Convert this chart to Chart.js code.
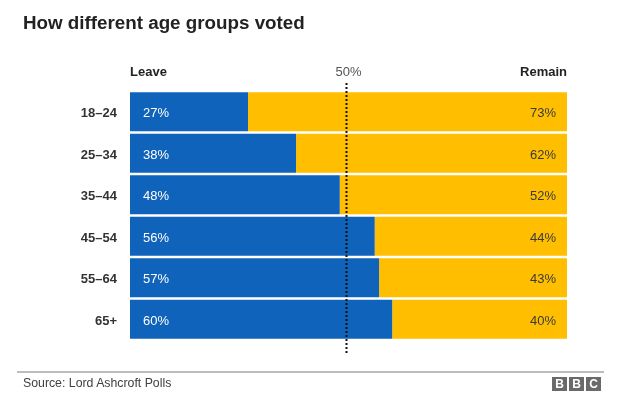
<!DOCTYPE html>
<html>
<head>
<meta charset="utf-8">
<script src="https://cdn.jsdelivr.net/npm/chart.js@4"></script>
<style>
  html, body { margin: 0; padding: 0; background: #fff; }
  body { width: 622px; height: 418px; position: relative; overflow: hidden; font-family: "Liberation Sans", Arial, Helvetica, sans-serif; }
  #wrap { position: absolute; left: 0; top: 0; width: 622px; height: 418px; }
  #title { position: absolute; left: 23px; top: 12px; font-size: 18.8px; font-weight: bold; color: #222; white-space: nowrap; }
  #rule { position: absolute; left: 17px; top: 371px; width: 587px; height: 2px; background: #bdbdbd; }
  #source { position: absolute; left: 23px; top: 376px; font-size: 12.3px; color: #404040; white-space: nowrap; }
  #bbc { position: absolute; left: 552px; top: 377px; display: flex; gap: 2px; }
  #bbc span { display: block; width: 15px; height: 14px; background: #6a6a6a; color: #fff; font-size: 12px; font-weight: bold; line-height: 14px; text-align: center; }
</style>
</head>
<body>
<div id="wrap"><canvas id="c" width="622" height="418"></canvas></div>
<div id="title">How different age groups voted</div>
<div id="rule"></div>
<div id="source">Source: Lord Ashcroft Polls</div>
<div id="bbc"><span>B</span><span>B</span><span>C</span></div>
<script>
const categories = ['18–24', '25–34', '35–44', '45–54', '55–64', '65+'];
const leaveValues = [27, 38, 48, 56, 57, 60];
const remainValues = [73, 62, 52, 44, 43, 40];
const seriesNames = ['Leave', 'Remain'];
const midLine = 50;

const FONT = '"Liberation Sans", Arial, Helvetica, sans-serif';

const overlay = {
  id: 'overlay',
  afterDatasetsDraw(chart) {
    const ctx = chart.ctx;
    const xs = chart.scales.x;
    const area = chart.chartArea;
    ctx.save();
    // value labels
    ctx.font = '13px ' + FONT;
    ctx.textBaseline = 'middle';
    const m0 = chart.getDatasetMeta(0);
    const m1 = chart.getDatasetMeta(1);
    m0.data.forEach((el, i) => {
      ctx.fillStyle = '#ffffff';
      ctx.textAlign = 'left';
      ctx.fillText(leaveValues[i] + '%', area.left + 13, el.y + 2);
    });
    m1.data.forEach((el, i) => {
      ctx.fillStyle = '#3a3a3a';
      ctx.textAlign = 'right';
      ctx.fillText(remainValues[i] + '%', area.right - 11, el.y + 2);
    });
    // dotted 50% line
    const xc = xs.getPixelForValue(midLine);
    const x = Math.round(xc) - 2.5;
    ctx.strokeStyle = '#111';
    ctx.lineWidth = 2;
    ctx.setLineDash([2, 2]);
    ctx.beginPath();
    ctx.moveTo(x, 83);
    ctx.lineTo(x, 353);
    ctx.stroke();
    ctx.setLineDash([]);
    // headers
    ctx.textBaseline = 'middle';
    ctx.font = 'bold 13px ' + FONT;
    ctx.fillStyle = '#222';
    ctx.textAlign = 'left';
    ctx.fillText(seriesNames[0], area.left, 72);
    ctx.textAlign = 'right';
    ctx.fillText(seriesNames[1], area.right, 72);
    ctx.font = '13px ' + FONT;
    ctx.fillStyle = '#555';
    ctx.textAlign = 'center';
    ctx.fillText(midLine + '%', xc, 72);
    ctx.restore();
  }
};

new Chart(document.getElementById('c'), {
  type: 'bar',
  data: {
    labels: categories,
    datasets: [
      { label: seriesNames[0], data: leaveValues, backgroundColor: '#1063ba', borderWidth: 0 },
      { label: seriesNames[1], data: remainValues, backgroundColor: '#ffbf00', borderWidth: 0 }
    ]
  },
  options: {
    indexAxis: 'y',
    responsive: false,
    animation: false,
    devicePixelRatio: 1,
    layout: { padding: { left: 0, right: 55, top: 91, bottom: 78 } },
    datasets: { bar: { barPercentage: 1, categoryPercentage: 0.94 } },
    plugins: { legend: { display: false }, tooltip: { enabled: false }, title: { display: false } },
    scales: {
      x: { stacked: true, min: 0, max: 100, display: false },
      y: {
        stacked: true,
        grid: { display: false, drawTicks: false },
        border: { display: false },
        ticks: { padding: 13, labelOffset: 2, color: '#333', font: { family: FONT, size: 13, weight: 'bold' } },
        afterFit(scale) { scale.width = 130; }
      }
    }
  },
  plugins: [overlay]
});
</script>
</body>
</html>
